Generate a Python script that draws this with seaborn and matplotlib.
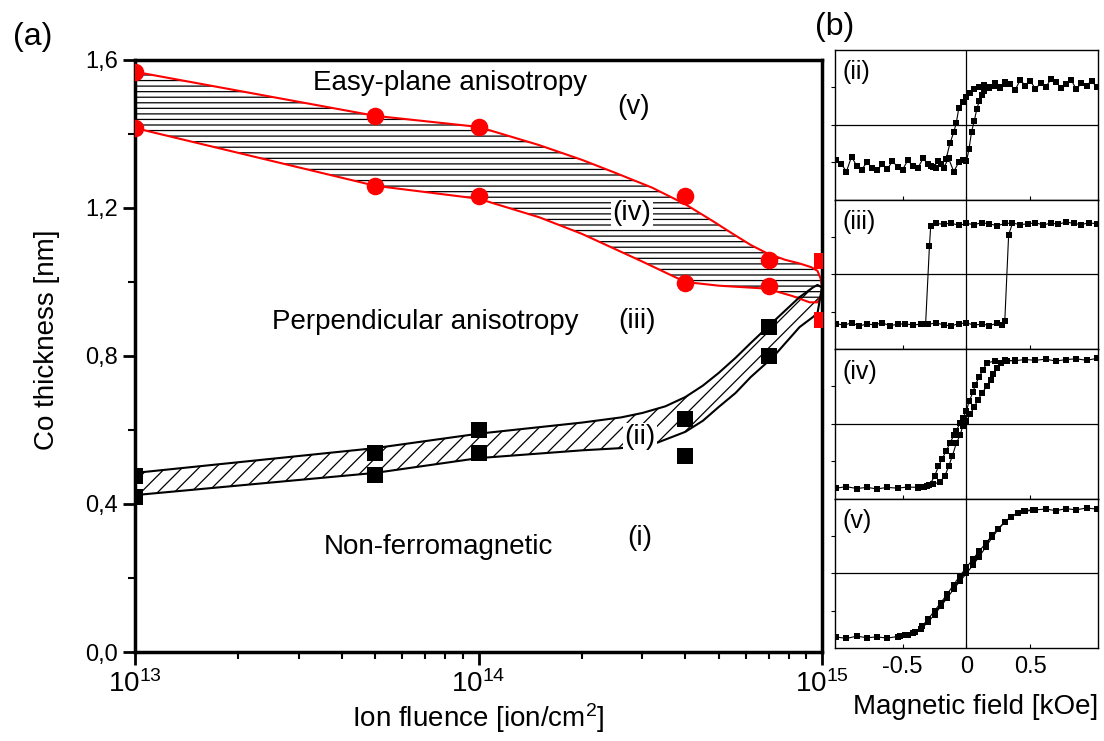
import numpy as np
import matplotlib
matplotlib.use("Agg")
import matplotlib.pyplot as plt
import seaborn as sns

# ---------------- data ----------------
# (a) phase diagram: Co thickness [nm] vs ion fluence [ion/cm2]
red_circ_x = [1e13, 1e13, 5e13, 5e13, 1e14, 1e14, 4e14, 4e14, 7e14, 7e14]
red_circ_y = [1.568, 1.416, 1.449, 1.260, 1.419, 1.232, 1.232, 0.997, 1.059, 0.989]
red_sq_x = [1e15, 1e15]
red_sq_y = [1.057, 0.897]
blk_sq_x = [1e13, 1e13, 5e13, 5e13, 1e14, 1e14, 4e14, 4e14, 7e14, 7e14]
blk_sq_y = [0.476, 0.419, 0.538, 0.478, 0.600, 0.538, 0.630, 0.530, 0.878, 0.800]

# boundaries of the hatched bands
red_up_x = [1e13, 5e13, 1e14, 1.5e14, 2e14, 2.5e14, 3.2e14, 4e14, 4.8e14, 5.5e14, 6.2e14, 6.9e14,
            7.8e14, 8.6e14, 9.3e14, 9.7e14, 9.9e14, 1e15]
red_up_y = [1.568, 1.449, 1.419, 1.370, 1.330, 1.295, 1.255, 1.210, 1.165, 1.130, 1.100, 1.078,
            1.060, 1.050, 1.040, 1.030, 1.010, 0.985]
red_lo_x = [1e13, 5e13, 1e14, 1.5e14, 2e14, 3e14, 4e14, 5e14, 6.9e14, 8.2e14, 9.2e14, 9.7e14,
            9.9e14, 1e15]
red_lo_y = [1.416, 1.260, 1.225, 1.175, 1.130, 1.055, 1.000, 0.990, 0.982, 0.962, 0.945, 0.945,
            0.960, 0.985]
blk_up_x = [1e13, 5e13, 1e14, 2e14, 2.6e14, 3e14, 3.5e14, 4e14, 4.5e14, 5e14, 5.6e14, 6.2e14,
            7.2e14, 8.6e14, 9.4e14, 9.7e14, 1e15]
blk_up_y = [0.484, 0.551, 0.590, 0.620, 0.634, 0.646, 0.664, 0.689, 0.720, 0.754, 0.795, 0.835,
            0.892, 0.959, 0.985, 0.992, 0.985]
blk_lo_x = [1e13, 5e13, 1e14, 2e14, 2.6e14, 3.3e14, 4e14, 4.5e14, 5e14, 5.6e14, 6.2e14, 7.2e14,
            8.6e14, 9.4e14, 9.7e14, 1e15]
blk_lo_y = [0.424, 0.484, 0.524, 0.545, 0.551, 0.565, 0.595, 0.625, 0.662, 0.700, 0.743, 0.797,
            0.878, 0.905, 0.916, 0.985]

y_ticks = [0.0, 0.4, 0.8, 1.2, 1.6]
y_ticklabels = ["0,0", "0,4", "0,8", "1,2", "1,6"]

# (b) hysteresis loops, field [kOe] and normalised signal
loops = {}
loops["(ii)"] = dict(
    desc_h=[1.02, 0.98, 0.94, 0.9, 0.86, 0.82, 0.78, 0.74, 0.7, 0.66, 0.62, 0.58, 0.54, 0.5, 0.46,
            0.42, 0.38, 0.34, 0.3, 0.26, 0.22, 0.18, 0.14, 0.1, 0.06, 0.03, 0.0, -0.03, -0.06,
            -0.08, -0.1, -0.13, -0.16, -0.2, -0.24, -0.28],
    desc_m=[1.0, 1.18, 1.05, 1.12, 0.95, 1.2, 1.1, 0.98, 1.15, 1.22, 1.0, 1.12, 0.95, 1.18, 1.05,
            1.2, 0.92, 1.1, 1.15, 1.0, 1.12, 0.98, 1.06, 1.02, 0.95, 0.85, 0.75, 0.62, 0.45,
            0.05, -0.2, -0.5, -0.92, -1.05, -1.15, -1.1],
    asc_h=[-1.02, -0.98, -0.94, -0.9, -0.86, -0.82, -0.78, -0.74, -0.7, -0.66, -0.62, -0.58, -0.54,
           -0.5, -0.46, -0.42, -0.38, -0.34, -0.3, -0.26, -0.22, -0.18, -0.14, -0.1, -0.06, -0.03,
           0.0, 0.02, 0.04, 0.06, 0.08, 0.1, 0.12, 0.14, 0.18, 0.22, 0.26, 0.3],
    asc_m=[-0.95, -1.05, -1.25, -0.85, -1.1, -1.2, -1.0, -1.15, -1.22, -1.05, -1.18, -0.98, -1.12,
           -1.2, -0.95, -1.1, -1.15, -0.9, -1.05, -1.12, -0.98, -1.15, -0.9, -1.25, -1.0, -0.95,
           -0.98, -0.64, -0.18, 0.09, 0.41, 0.64, 0.8, 0.91, 1.02, 1.05, 0.98, 1.08])
loops["(iii)"] = dict(
    desc_h=[1.02, 0.96, 0.9, 0.84, 0.78, 0.72, 0.66, 0.6, 0.54, 0.48, 0.42, 0.36, 0.3, 0.24, 0.18,
            0.12, 0.06, 0.0, -0.06, -0.12, -0.18, -0.24, -0.28, -0.29, -0.32],
    desc_m=[1.35, 1.38, 1.33, 1.36, 1.4, 1.34, 1.37, 1.32, 1.38, 1.35, 1.33, 1.37, 1.36, 1.3, 1.35,
            1.38, 1.33, 1.36, 1.31, 1.37, 1.34, 1.36, 1.3, 0.77, -1.32],
    asc_h=[-1.02, -0.96, -0.9, -0.84, -0.78, -0.72, -0.66, -0.6, -0.54, -0.48, -0.42, -0.36, -0.3,
           -0.24, -0.18, -0.12, -0.06, 0.0, 0.06, 0.12, 0.18, 0.24, 0.28, 0.3, 0.33, 0.36],
    asc_m=[-1.32, -1.36, -1.3, -1.38, -1.33, -1.35, -1.3, -1.37, -1.34, -1.32, -1.36, -1.33, -1.34,
           -1.3, -1.35, -1.38, -1.32, -1.3, -1.36, -1.33, -1.37, -1.31, -1.35, -1.24, 1.06, 1.36])
loops["(iv)"] = dict(
    desc_h=[1.02, 0.94, 0.86, 0.78, 0.7, 0.62, 0.54, 0.46, 0.38, 0.3, 0.22, 0.16, 0.13, 0.1, 0.07,
            0.05, 0.02, 0.0, -0.03, -0.05, -0.08, -0.1, -0.13, -0.16, -0.19, -0.22, -0.25, -0.29,
            -0.33, -0.38],
    desc_m=[1.75, 1.7, 1.74, 1.72, 1.68, 1.73, 1.7, 1.72, 1.69, 1.7, 1.68, 1.63, 1.45, 1.26, 1.05,
            0.84, 0.6, 0.35, 0.15, 0.02, -0.18, -0.31, -0.52, -0.73, -0.93, -1.14, -1.4, -1.64,
            -1.7, -1.72],
    asc_h=[-1.02, -0.94, -0.86, -0.78, -0.7, -0.62, -0.54, -0.46, -0.38, -0.31, -0.26, -0.21, -0.17,
           -0.14, -0.11, -0.08, -0.05, -0.03, 0.0, 0.03, 0.06, 0.09, 0.12, 0.16, 0.19, 0.21, 0.24,
           0.27, 0.32, 0.38],
    asc_m=[-1.72, -1.68, -1.73, -1.7, -1.74, -1.7, -1.72, -1.69, -1.7, -1.66, -1.62, -1.55, -1.4,
           -1.14, -0.85, -0.52, -0.3, -0.07, 0.08, 0.26, 0.45, 0.64, 0.82, 1.01, 1.17, 1.34, 1.5,
           1.63, 1.68, 1.7])
loops["(v)"] = dict(
    desc_h=[1.02, 0.94, 0.86, 0.78, 0.7, 0.62, 0.54, 0.46, 0.4, 0.35, 0.3, 0.25, 0.2, 0.15, 0.1,
            0.05, 0.0, -0.05, -0.1, -0.15, -0.2, -0.25, -0.3, -0.35, -0.4, -0.46, -0.52],
    desc_m=[1.72, 1.75, 1.7, 1.73, 1.68, 1.72, 1.7, 1.66, 1.62, 1.5, 1.38, 1.2, 1.02, 0.8, 0.6,
            0.38, 0.16, -0.06, -0.3, -0.55, -0.78, -1.0, -1.22, -1.42, -1.56, -1.64, -1.68],
    asc_h=[-1.02, -0.94, -0.86, -0.78, -0.7, -0.62, -0.54, -0.48, -0.42, -0.36, -0.3, -0.25, -0.2,
           -0.15, -0.1, -0.05, 0.0, 0.05, 0.1, 0.15, 0.2, 0.25, 0.3, 0.35, 0.4, 0.45, 0.52],
    asc_m=[-1.7, -1.74, -1.68, -1.72, -1.7, -1.73, -1.69, -1.66, -1.6, -1.5, -1.3, -1.1, -0.88,
           -0.65, -0.42, -0.2, 0.0, 0.22, 0.45, 0.7, 0.96, 1.18, 1.38, 1.52, 1.62, 1.68, 1.7])

field_ticks = [-0.5, 0, 0.5]
field_ticklabels = ["-0.5", "0", "0.5"]

# ---------------- style ----------------
sns.set_style("ticks")
plt.rcParams['font.family'] = ['Liberation Sans', 'DejaVu Sans']
plt.rcParams['mathtext.default'] = 'regular'
plt.rcParams['hatch.linewidth'] = 0.9
for k in ['text.color', 'axes.labelcolor', 'xtick.color', 'ytick.color', 'axes.edgecolor']:
    plt.rcParams[k] = 'black'

fig = plt.figure(figsize=(11.04, 7.41), dpi=100)

# ================= panel (a) =================
ax = fig.add_axes([0.1223, 0.1201, 0.6223, 0.799])
ax.set_xscale('log')

# hatched bands
ax.fill(red_up_x + red_lo_x[::-1], red_up_y + red_lo_y[::-1],
        facecolor='none', edgecolor='black', hatch='---', linewidth=0, zorder=1)
ax.fill(blk_up_x + blk_lo_x[::-1], blk_up_y + blk_lo_y[::-1],
        facecolor='none', edgecolor='black', hatch='//', linewidth=0, zorder=1)

sns.lineplot(x=red_up_x, y=red_up_y, sort=False, estimator=None, color='red', lw=1.5, ax=ax, zorder=2)
sns.lineplot(x=red_lo_x, y=red_lo_y, sort=False, estimator=None, color='red', lw=1.5, ax=ax, zorder=2)
ax.plot([1e13, 1e13], [red_lo_y[0], red_up_y[0]], color='red', lw=1.5, zorder=2)
sns.lineplot(x=blk_up_x, y=blk_up_y, sort=False, estimator=None, color='black', lw=1.5, ax=ax, zorder=2)
sns.lineplot(x=blk_lo_x, y=blk_lo_y, sort=False, estimator=None, color='black', lw=1.5, ax=ax, zorder=2)

# region labels
txt = dict(fontsize=20, ha='center', va='center', transform=ax.transAxes)
ax.text(0.4585, 0.961, "Easy-plane anisotropy", **txt)
ax.text(0.725, 0.921, "(v)", **txt)
ax.text(0.723, 0.742, "(iv)", bbox=dict(facecolor='white', edgecolor='none', pad=1), zorder=3, **txt)
ax.text(0.422, 0.557, "Perpendicular anisotropy", **txt)
ax.text(0.731, 0.559, "(iii)", **txt)
ax.text(0.735, 0.363, "(ii)", bbox=dict(facecolor='white', edgecolor='none', pad=1), zorder=3, **txt)
ax.text(0.441, 0.177, "Non-ferromagnetic", **txt)
ax.text(0.735, 0.193, "(i)", **txt)

# data points
sns.scatterplot(x=red_circ_x, y=red_circ_y, marker='o', s=160, color='red', linewidth=0, ax=ax, zorder=4)
sns.scatterplot(x=red_sq_x, y=red_sq_y, marker='s', s=130, color='red', linewidth=0, ax=ax, zorder=4)
sns.scatterplot(x=blk_sq_x, y=blk_sq_y, marker='s', s=130, color='black', linewidth=0, ax=ax, zorder=4)

ax.set_xlim(1e13, 1e15)
ax.set_ylim(0, 1.6)
ax.set_yticks(y_ticks)
ax.set_yticklabels(y_ticklabels)
ax.set_yticks([0.2, 0.6, 1.0, 1.4], minor=True)
for s in ax.spines.values():
    s.set_linewidth(2.5)
    s.set_color('black')
ax.tick_params(axis='both', which='major', direction='out', length=9, width=2, labelsize=17)
ax.tick_params(axis='x', which='major', labelsize=20, pad=4)
ax.tick_params(axis='both', which='minor', direction='out', length=5, width=1.5)
ax.tick_params(top=False, right=False, which='both')

ax.set_xlabel("Ion fluence [ion/cm$^2$]", fontsize=20)
ax.set_ylabel("Co thickness [nm]", fontsize=20)
ax.xaxis.set_label_coords(0.5, -0.111)
ax.xaxis.label.set_va('center')
ax.yaxis.set_label_coords(-0.128, 0.527)
ax.yaxis.label.set_va('center')

fig.text(13 / 1104, 1 - 37 / 741, "(a)", fontsize=23, ha='left', va='center')
fig.text(815 / 1104, 1 - 27 / 741, "(b)", fontsize=23, ha='left', va='center')

# ================= panel (b) =================
b_left, b_width = 0.7563, 0.2383
b_top, b_h = 0.9325, 0.2018
names = ["(ii)", "(iii)", "(iv)", "(v)"]
for i, name in enumerate(names):
    axb = fig.add_axes([b_left, b_top - (i + 1) * b_h, b_width, b_h])
    lp = loops[name]
    for h, m in [(lp['desc_h'], lp['desc_m']), (lp['asc_h'], lp['asc_m'])]:
        sns.lineplot(x=h, y=m, sort=False, estimator=None, color='black', lw=0.8,
                     marker='s', markersize=4, markeredgewidth=0, ax=axb)
    axb.axhline(0, color='black', lw=0.9, zorder=0)
    axb.axvline(0, color='black', lw=0.9, zorder=0)
    axb.set_xlim(-1.03, 1.03)
    axb.set_ylim(-2, 2)
    axb.set_yticks([-1, 0, 1])
    axb.set_yticklabels([])
    axb.set_xticks(field_ticks)
    for s in axb.spines.values():
        s.set_linewidth(1.0)
        s.set_color('black')
    axb.tick_params(axis='y', direction='out', length=3, width=0.8)
    axb.tick_params(axis='x', direction='in', length=3, width=0.8)
    axb.text(0.03, 0.93, name, transform=axb.transAxes, fontsize=18, ha='left', va='top')
    if i < 3:
        axb.set_xticklabels([])
    else:
        axb.set_xticklabels(field_ticklabels)
        axb.tick_params(axis='x', labelsize=17, pad=6)
        axb.set_xlabel("Magnetic field [kOe]", fontsize=20)
        axb.xaxis.set_label_coords(0.536, -0.395)
        axb.xaxis.label.set_va('center')

fig.savefig("out.png", dpi=100)
